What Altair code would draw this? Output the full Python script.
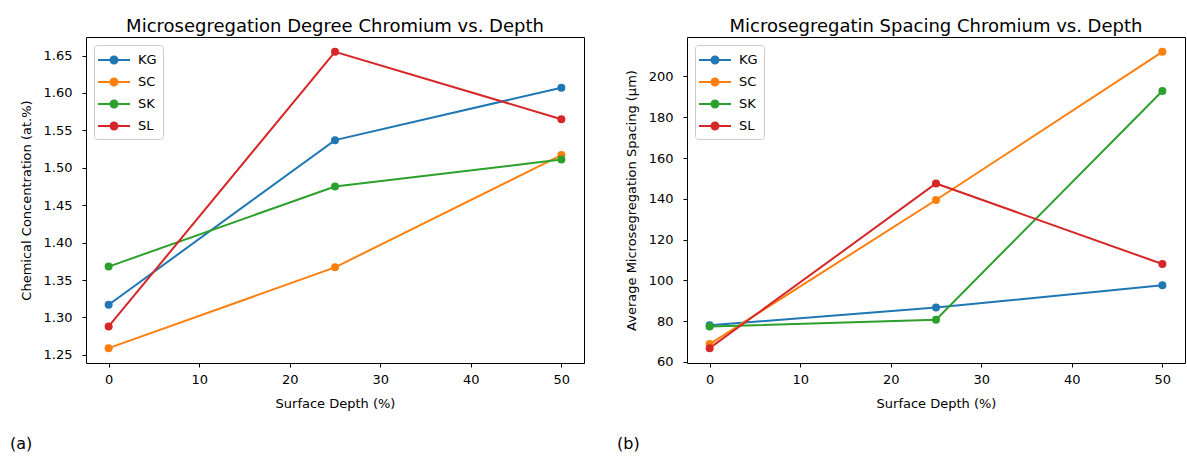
import altair as alt
import pandas as pd

# ---------------- data ----------------
depth = [0, 25, 50]
series = ["KG", "SC", "SK", "SL"]
colors = ["#1f77b4", "#ff7f0e", "#2ca02c", "#d62728"]

conc_KG = [1.317, 1.537, 1.607]
conc_SC = [1.259, 1.367, 1.517]
conc_SK = [1.368, 1.475, 1.511]
conc_SL = [1.288, 1.655, 1.565]

spac_KG = [77.9, 86.6, 97.6]
spac_SC = [68.7, 139.4, 212.1]
spac_SK = [77.3, 80.7, 192.9]
spac_SL = [66.7, 147.5, 108.0]

x_ticks = [0, 10, 20, 30, 40, 50]
conc_ticks = [1.25, 1.30, 1.35, 1.40, 1.45, 1.50, 1.55, 1.60, 1.65]
spac_ticks = [60, 80, 100, 120, 140, 160, 180, 200]

title_a = "Microsegregation Degree Chromium vs. Depth"
title_b = "Microsegregatin Spacing Chromium vs. Depth"
ytitle_a = "Chemical Concentration (at.%)"
ytitle_b = "Average Microsegregation Spacing (\u00b5m)"
xtitle = "Surface Depth (%)"
panel_labels = ["(a)", "(b)"]

FONT = "DejaVu Sans"

def make_df(vals):
    rows = []
    for s, v in zip(series, vals):
        for d, y in zip(depth, v):
            rows.append({"depth": d, "value": y, "series": s})
    return pd.DataFrame(rows)

df_a = make_df([conc_KG, conc_SC, conc_SK, conc_SL])
df_b = make_df([spac_KG, spac_SC, spac_SK, spac_SL])

def margin_domain(vals, m=0.05):
    lo, hi = min(vals), max(vals)
    r = hi - lo
    return [lo - m * r, hi + m * r]

# legend handle: line with a filled circle (unit = 9 px with symbolSize 324)
legend_path = ("M-1.78,-0.111 H-0.45 V0.111 H-1.78 Z "
               "M0.45,-0.111 H1.78 V0.111 H0.45 Z "
               "M-0.5,0 A0.5,0.5 0 1,1 0.5,0 A0.5,0.5 0 1,1 -0.5,0 Z")

def make_legend():
    return alt.Legend(
        title=None, orient="top-left", offset=8, padding=6,
        strokeColor="#cccccc", fillColor="rgba(255,255,255,0.8)", cornerRadius=3,
        symbolType=legend_path, symbolSize=324, symbolStrokeWidth=0,
        symbolOffset=5,
        labelFontSize=13, labelFont=FONT, labelColor="black",
        labelOffset=15, rowPadding=6)

def panel(df, title, ytitle, yticks, yfmt, label, label_dx):
    xenc = alt.X("depth:Q",
                 scale=alt.Scale(domain=margin_domain(depth), nice=False, zero=False),
                 axis=alt.Axis(values=x_ticks, title=xtitle, format="d"))
    yenc = alt.Y("value:Q",
                 scale=alt.Scale(domain=margin_domain(df["value"].tolist()), nice=False, zero=False),
                 axis=alt.Axis(values=yticks, title=ytitle, format=yfmt))
    sc = alt.Scale(domain=series, range=colors)
    base = alt.Chart(df)
    lines = base.mark_line(strokeWidth=2).encode(
        x=xenc, y=yenc,
        stroke=alt.Stroke("series:N", scale=sc, legend=make_legend()),
        detail="series:N",
    )
    pts = base.mark_point(filled=True, size=64, opacity=1).encode(
        x=xenc, y=yenc,
        fill=alt.Fill("series:N", scale=sc, legend=make_legend()),
    )
    lab = alt.Chart(pd.DataFrame({"t": [label]})).mark_text(
        align="left", baseline="middle", font=FONT, fontSize=16, color="black"
    ).encode(text="t:N", x=alt.value(label_dx), y=alt.value(407))
    return alt.layer(lines, pts, lab).properties(
        width=498, height=326,
        title=alt.TitleParams(title, font=FONT, fontSize=18, fontWeight="normal",
                              color="black", anchor="middle", offset=1),
    )

left = panel(df_a, title_a, ytitle_a, conc_ticks, ".2f", panel_labels[0], -76)
right = panel(df_b, title_b, ytitle_b, spac_ticks, "d", panel_labels[1], -70)

chart = alt.hconcat(left, right, spacing=31).resolve_scale(
    fill="independent", stroke="independent"
).resolve_legend(
    fill="independent", stroke="independent"
).configure(
    padding={"left": 9, "top": 17, "right": 0, "bottom": 0},
    background="white",
).configure_view(
    stroke="black", strokeWidth=1
).configure_axis(
    domain=False, grid=False, ticks=True, tickColor="black", tickSize=4, tickWidth=1,
    labelFont=FONT, labelFontSize=13, labelColor="black",
    titleFont=FONT, titleFontSize=13, titleFontWeight="normal", titleColor="black",
).configure_axisX(
    labelPadding=6, titlePadding=11
).configure_axisY(
    labelPadding=10, titlePadding=10
)

chart.save("out.html", embed_options={"renderer": "svg", "actions": False})
